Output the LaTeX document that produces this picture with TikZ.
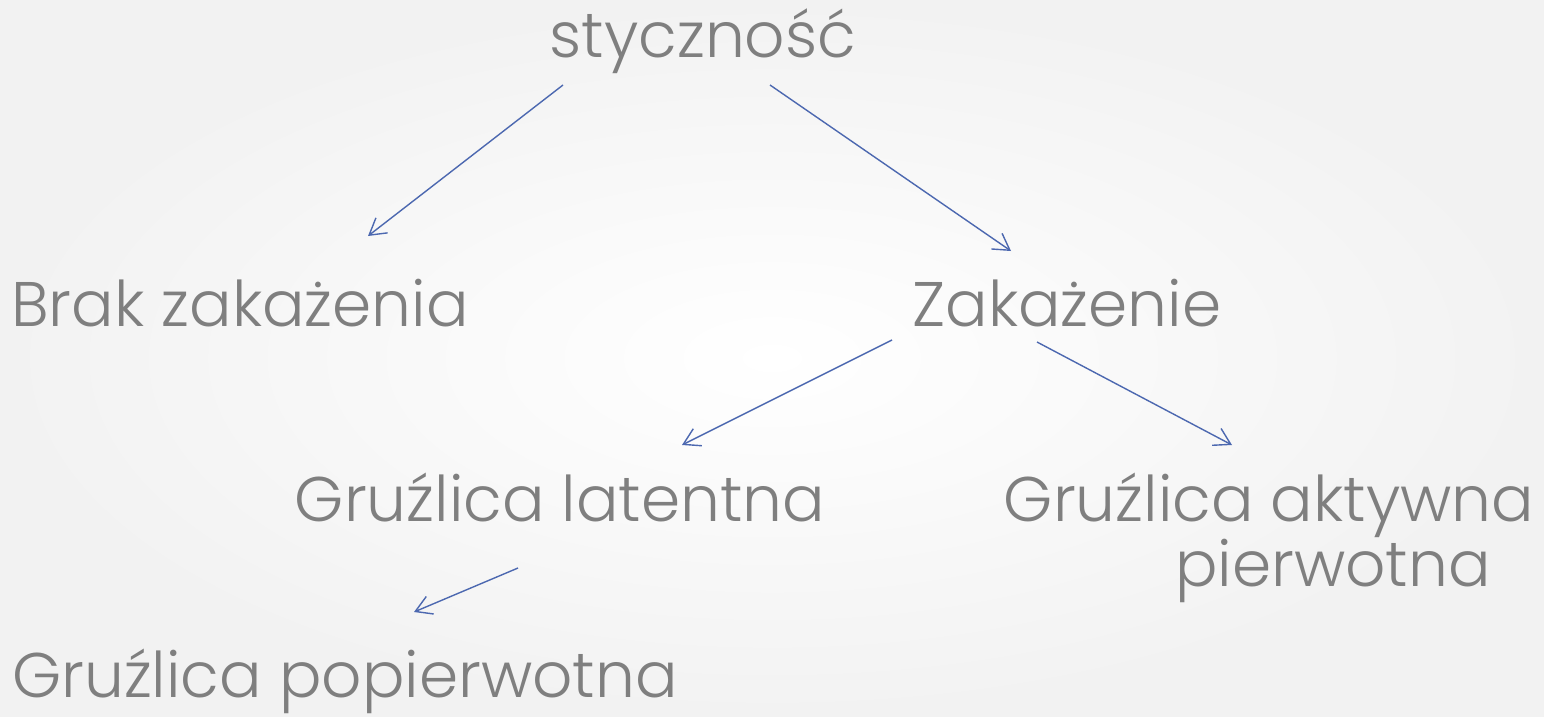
\documentclass[tikz,border=0pt]{standalone}
\usepackage{fontspec}
\setmainfont{Poppins}[UprightFont=* Light]
\usetikzlibrary{arrows.meta}
\definecolor{txtgray}{RGB}{127,127,127}
\definecolor{arrowblue}{RGB}{76,104,176}
\definecolor{edgegray}{RGB}{242,242,242}
\begin{document}
\begin{tikzpicture}[x=1pt,y=-1pt,
  lbl/.style={text=txtgray, font=\fontsize{63}{70}\selectfont, inner sep=0pt, anchor=base},
  conn/.style={draw=arrowblue, line width=1.4pt,
    -{Straight Barb[length=16pt,width=19pt]}}]
  % slide background
  \shade[inner color=white, outer color=edgegray]
    (0,0) rectangle (1544,716);
  \useasboundingbox (0,0) rectangle (1544,716);

  % labels
  \node[lbl] (contact) at (703,57) {styczność};
  \node[lbl] (noinf)   at (240,326) {Brak zakażenia};
  \node[lbl] (inf)     at (1067,326) {Zakażenie};
  \node[lbl] (latent)  at (560,521) {Gruźlica latentna};
  \node[lbl] (active)  at (1269,521) {Gruźlica aktywna};
  \node[lbl] (activeb) at (1333,586) {pierwotna};
  \node[lbl] (post)    at (345,697) {Gruźlica popierwotna};

  % arrow end points
  \coordinate (c1) at (563,85);   \coordinate (n1) at (368,236);
  \coordinate (c2) at (770,85);   \coordinate (i1) at (1011,251);
  \coordinate (i2) at (892,340);  \coordinate (l1) at (682,445);
  \coordinate (i3) at (1037,342); \coordinate (a1) at (1232,445);
  \coordinate (l2) at (518,568);  \coordinate (p1) at (414,612);

  \draw[conn] (c1) -- (n1);
  \draw[conn] (c2) -- (i1);
  \draw[conn] (i2) -- (l1);
  \draw[conn] (i3) -- (a1);
  \draw[conn] (l2) -- (p1);
\end{tikzpicture}
\end{document}
